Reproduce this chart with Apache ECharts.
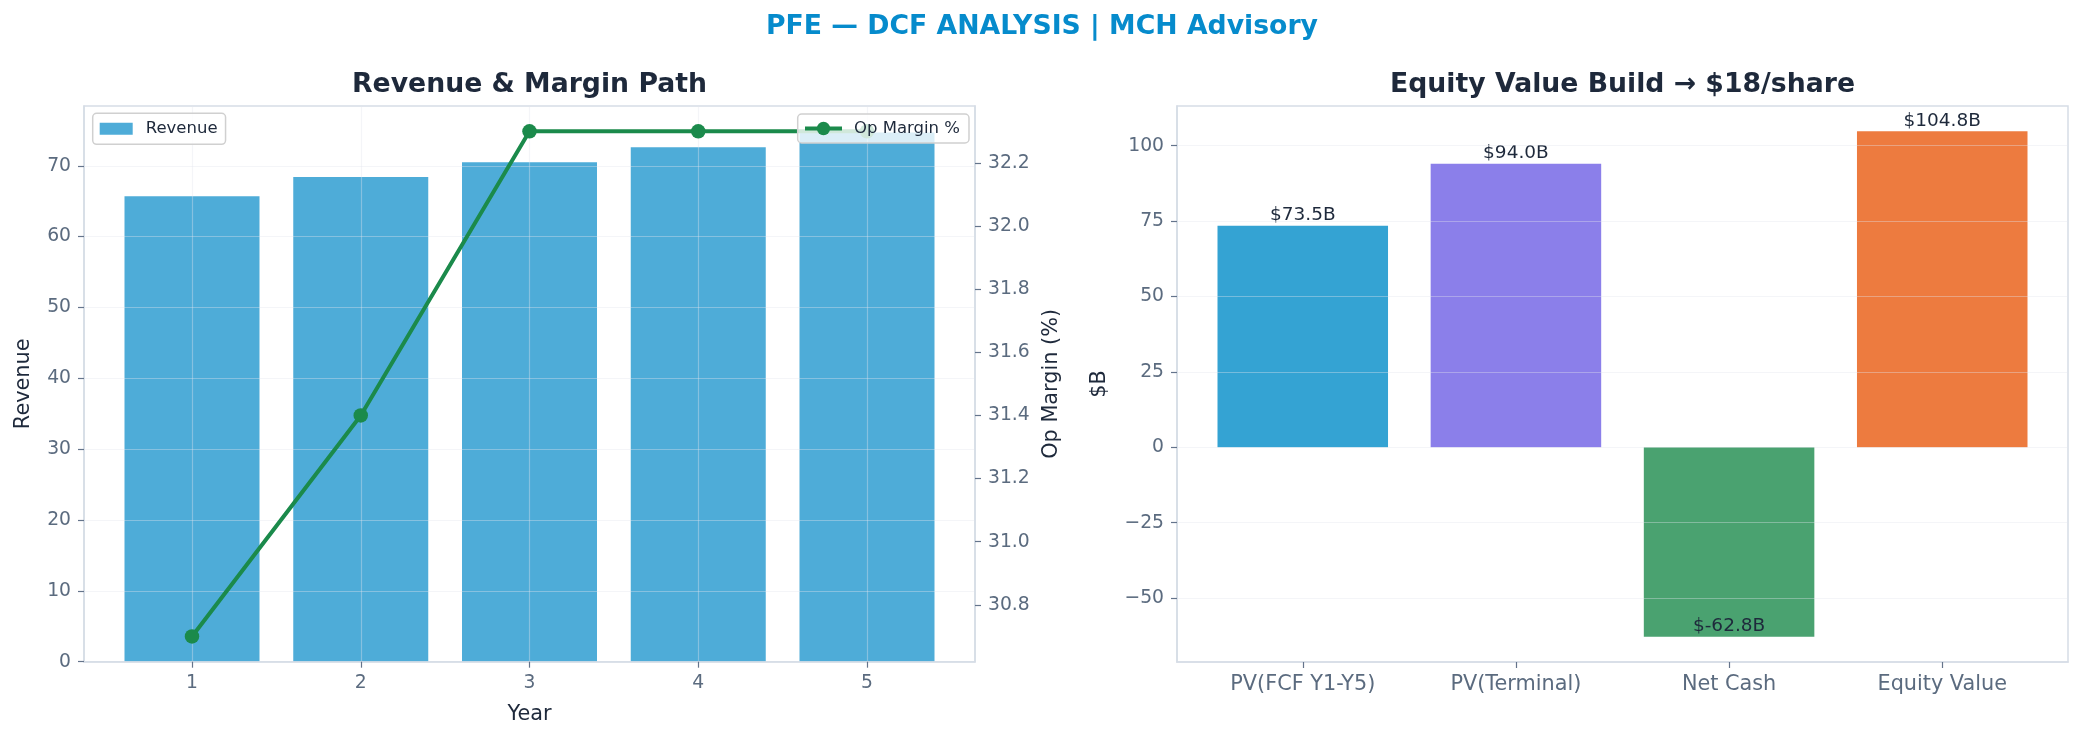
<!DOCTYPE html>
<html><head><meta charset="utf-8">
<script src="https://cdn.jsdelivr.net/npm/echarts@6/dist/echarts.min.js"></script>
<style>html,body{margin:0;padding:0;background:#fff}#c{width:2084px;height:742px}</style>
</head><body><div id="c"></div>
<script>
// ---- data ----
const years = [1, 2, 3, 4, 5];
const revenue = [65.7, 68.4, 70.5, 72.6, 74.7];
const opMargin = [30.7, 31.4, 32.3, 32.3, 32.3];
const revTicks = [0, 10, 20, 30, 40, 50, 60, 70];
const marginTicks = [30.8, 31.0, 31.2, 31.4, 31.6, 31.8, 32.0, 32.2];
const buildCats = ['PV(FCF Y1-Y5)', 'PV(Terminal)', 'Net Cash', 'Equity Value'];
const buildValues = [73.5, 94.0, -62.8, 104.8];
const buildTicks = [-50, -25, 0, 25, 50, 75, 100];

// ---- styles ----
const FONT = 'DejaVu Sans';
const buildColors = ['#34a3d3', '#8b7fea', '#4aa270', '#ed7b3f'];
const SPINE = '#d6dde6', TICK = '#64748b', TICKLBL = '#5b6b7f', DARK = '#1e293b';
const GRIDC = 'rgba(225,230,236,0.38)';
const GREEN = '#1b8a4b';

function pad(lo, hi) { const r = hi - lo; return [lo - r * 0.05, hi + r * 0.05]; }
const revMax = Math.max(...revenue) * 1.05;
const mExt = pad(Math.min(...opMargin), Math.max(...opMargin));
const xExt = pad(years[0] - 0.4, years[years.length - 1] + 0.4);
const bExt = pad(Math.min(0, ...buildValues), Math.max(0, ...buildValues));
const bxExt = pad(-0.4, buildCats.length - 1 + 0.4);
const idx = buildCats.map((c, i) => i);
const minusFmt = v => String(v).replace('-', '\u2212');

const tickLabel = (size) => ({ fontFamily: FONT, fontSize: size, color: TICKLBL });
const nameStyle = { fontFamily: FONT, fontSize: 20.8, color: DARK };
const axisLine = { show: true, onZero: false, lineStyle: { color: SPINE, width: 1.5 } };
const axisTick = (vals) => ({ show: true, customValues: vals, length: 6, lineStyle: { color: TICK, width: 1.2 } });

const chart = echarts.init(document.getElementById('c'), null, { renderer: 'canvas' });
chart.setOption({
  animation: false,
  backgroundColor: '#fff',
  graphic: [
    { type: 'text', x: 1042, y: 27.5, style: { text: 'PFE \u2014 DCF ANALYSIS | MCH Advisory', align: 'center', verticalAlign: 'middle', font: 'bold 26.7px "DejaVu Sans"', fill: '#068bcc' } },
    { type: 'text', x: 529.5, y: 85, style: { text: 'Revenue & Margin Path', align: 'center', verticalAlign: 'middle', font: 'bold 26.7px "DejaVu Sans"', fill: DARK } },
    { type: 'text', x: 1622.5, y: 85, style: { text: 'Equity Value Build \u2192 $18/share', align: 'center', verticalAlign: 'middle', font: 'bold 26.7px "DejaVu Sans"', fill: DARK } }
  ],
  grid: [
    { left: 84, top: 106, width: 891, height: 555.7, show: true, borderColor: SPINE, borderWidth: 1.5 },
    { left: 1177, top: 106, width: 891, height: 556, show: true, borderColor: SPINE, borderWidth: 1.5 }
  ],
  legend: [
    { data: [{ name: 'Revenue', icon: 'rect' }], left: 92.7, top: 113.3, itemWidth: 33, itemHeight: 12,
      padding: [7, 8, 7, 7], borderColor: '#d0d0d0', borderWidth: 1.5, borderRadius: 4,
      backgroundColor: 'rgba(255,255,255,0.8)', z: 5,
      textStyle: { fontFamily: FONT, fontSize: 16.5, color: DARK, padding: [0, 0, 0, 8] } },
    { data: ['Op Margin %'], left: 797.7, top: 114, itemWidth: 37, itemHeight: 16.6,
      lineStyle: { width: 4 },
      padding: [6, 9, 6, 5.3], borderColor: '#d0d0d0', borderWidth: 1.5, borderRadius: 4,
      backgroundColor: 'rgba(255,255,255,0.8)', z: 5,
      textStyle: { fontFamily: FONT, fontSize: 16.5, color: DARK, padding: [0, 0, 0, 7] } }
  ],
  xAxis: [
    { type: 'value', gridIndex: 0, min: xExt[0], max: xExt[1], z: 3,
      axisLine: axisLine, axisTick: axisTick(years),
      axisLabel: Object.assign({ customValues: years, margin: 12 }, tickLabel(18.75)),
      splitLine: { show: true, lineStyle: { color: GRIDC, width: 1.2 } },
      name: 'Year', nameLocation: 'middle', nameGap: 42, nameTextStyle: nameStyle },
    { type: 'value', gridIndex: 1, min: bxExt[0], max: bxExt[1], z: 3,
      axisLine: axisLine, axisTick: axisTick(idx),
      axisLabel: Object.assign({ customValues: idx, margin: 12, formatter: v => buildCats[Math.round(v)] }, tickLabel(20.8)),
      splitLine: { show: false } }
  ],
  yAxis: [
    { type: 'value', gridIndex: 0, position: 'left', min: 0, max: revMax, z: 3,
      axisLine: axisLine, axisTick: axisTick(revTicks),
      axisLabel: Object.assign({ customValues: revTicks, margin: 13 }, tickLabel(18.75)),
      splitLine: { show: true, lineStyle: { color: GRIDC, width: 1.2 } },
      name: 'Revenue', nameLocation: 'middle', nameGap: 50, nameTextStyle: nameStyle },
    { type: 'value', gridIndex: 0, position: 'right', min: mExt[0], max: mExt[1], z: 3,
      axisLine: axisLine, axisTick: axisTick(marginTicks),
      axisLabel: Object.assign({ customValues: marginTicks, margin: 13, formatter: v => v.toFixed(1) }, tickLabel(18.75)),
      splitLine: { show: false },
      name: 'Op Margin (%)', nameLocation: 'middle', nameGap: 66, nameTextStyle: nameStyle },
    { type: 'value', gridIndex: 1, position: 'left', min: bExt[0], max: bExt[1], z: 3,
      axisLine: axisLine, axisTick: axisTick(buildTicks),
      axisLabel: Object.assign({ customValues: buildTicks, margin: 13, formatter: minusFmt }, tickLabel(18.75)),
      splitLine: { show: true, lineStyle: { color: GRIDC, width: 1.2 } },
      name: '$B', nameLocation: 'middle', nameGap: 67, nameTextStyle: nameStyle }
  ],
  series: [
    { name: 'Revenue', type: 'bar', xAxisIndex: 0, yAxisIndex: 0, barWidth: '80%', z: 2,
      itemStyle: { color: '#4eacd8' },
      data: years.map((y, i) => [y, revenue[i]]) },
    { name: 'Op Margin %', type: 'line', xAxisIndex: 0, yAxisIndex: 1, z: 4,
      symbol: 'circle', symbolSize: 14.5, color: GREEN,
      lineStyle: { color: GREEN, width: 4 }, itemStyle: { color: GREEN },
      data: years.map((y, i) => [y, opMargin[i]]) },
    { name: 'Build', type: 'bar', xAxisIndex: 1, yAxisIndex: 2, barWidth: '80%', z: 2,
      label: { show: true, fontFamily: FONT, fontSize: 18.5, color: DARK, distance: 1,
               formatter: p => '$' + p.value[1].toFixed(1) + 'B' },
      data: buildValues.map((v, i) => ({
        value: [i, v],
        itemStyle: { color: buildColors[i] },
        label: { position: v < 0 ? 'insideBottom' : 'top' }
      })) }
  ]
});
</script></body></html>
